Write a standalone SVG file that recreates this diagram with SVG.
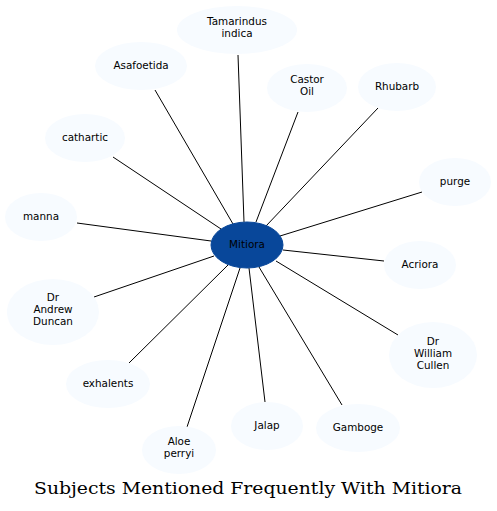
<svg xmlns="http://www.w3.org/2000/svg" width="497" height="511" viewBox="0 0 497 511">
<style>
.n ellipse{fill:#f7fbff;stroke:none}
.c ellipse{fill:#08479a;stroke:#08479a}
text{font-family:"DejaVu Sans",sans-serif;font-size:10.4px;text-anchor:middle;fill:#000}
.e line{stroke:#000;stroke-width:1}
.t{font-family:"DejaVu Serif",serif;font-size:16px}
</style>
<rect width="497" height="511" fill="#fff"/>
<g class="e" id="edges">
<line x1="244" y1="222" x2="238" y2="55"/>
<line x1="233" y1="224" x2="155" y2="90"/>
<line x1="256" y1="222" x2="298" y2="112"/>
<line x1="266" y1="226" x2="378" y2="108"/>
<line x1="221" y1="229" x2="113" y2="157"/>
<line x1="280" y1="236" x2="422" y2="192"/>
<line x1="211" y1="241" x2="77" y2="223"/>
<line x1="283" y1="250" x2="384" y2="261"/>
<line x1="214" y1="256" x2="94" y2="297"/>
<line x1="276" y1="261" x2="398" y2="335"/>
<line x1="228" y1="265" x2="129" y2="363"/>
<line x1="240" y1="268" x2="187" y2="427"/>
<line x1="249" y1="268" x2="265" y2="402"/>
<line x1="259" y1="267" x2="342" y2="405"/>
</g>
<g id="tamarindus" class="n"><ellipse cx="237" cy="30" rx="60" ry="24"/><text x="237" y="25">Tamarindus</text><text x="237" y="37">indica</text></g>
<g id="asafoetida" class="n"><ellipse cx="141" cy="66" rx="46" ry="24"/><text x="141" y="69">Asafoetida</text></g>
<g id="castor" class="n"><ellipse cx="307" cy="88" rx="40" ry="24"/><text x="307" y="83">Castor</text><text x="307" y="95">Oil</text></g>
<g id="rhubarb" class="n"><ellipse cx="397" cy="87" rx="39" ry="24"/><text x="397" y="90">Rhubarb</text></g>
<g id="cathartic" class="n"><ellipse cx="85" cy="138" rx="40" ry="24"/><text x="85" y="141">cathartic</text></g>
<g id="purge" class="n"><ellipse cx="455" cy="182" rx="36" ry="24"/><text x="455" y="185">purge</text></g>
<g id="manna" class="n"><ellipse cx="41" cy="217" rx="36" ry="24"/><text x="41" y="220">manna</text></g>
<g id="mitiora" class="c"><ellipse cx="247" cy="245" rx="36" ry="23"/><text x="247" y="248">Mitiora</text></g>
<g id="acriora" class="n"><ellipse cx="420" cy="265" rx="36" ry="24"/><text x="420" y="268">Acriora</text></g>
<g id="duncan" class="n"><ellipse cx="53" cy="312" rx="46" ry="33"/><text x="53" y="301">Dr</text><text x="53" y="313">Andrew</text><text x="53" y="325">Duncan</text></g>
<g id="cullen" class="n"><ellipse cx="433" cy="355" rx="44" ry="33"/><text x="433" y="345">Dr</text><text x="433" y="357">William</text><text x="433" y="369">Cullen</text></g>
<g id="exhalents" class="n"><ellipse cx="108" cy="384" rx="42" ry="24"/><text x="108" y="387">exhalents</text></g>
<g id="aloe" class="n"><ellipse cx="179" cy="450" rx="37" ry="24"/><text x="179" y="445">Aloe</text><text x="179" y="457">perryi</text></g>
<g id="jalap" class="n"><ellipse cx="267" cy="426" rx="36" ry="24"/><text x="267" y="429">Jalap</text></g>
<g id="gamboge" class="n"><ellipse cx="358" cy="428" rx="42" ry="24"/><text x="358" y="431">Gamboge</text></g>
<text class="t" x="248" y="494" textLength="428" lengthAdjust="spacingAndGlyphs">Subjects Mentioned Frequently With Mitiora</text>
</svg>
